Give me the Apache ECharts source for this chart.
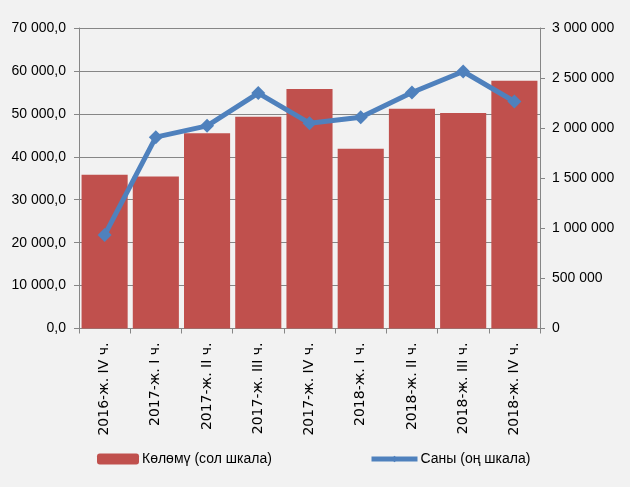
<!DOCTYPE html>
<html><head><meta charset="utf-8">
<script src="https://cdn.jsdelivr.net/npm/echarts@6/dist/echarts.min.js"></script>
<style>html,body{margin:0;padding:0;background:#f2f2f2}#c{width:630px;height:487px}</style>
</head><body><div id="c"></div>
<script>
const categories = ['2016-ж. IV ч.','2017-ж. I ч.','2017-ж. II ч.','2017-ж. III ч.','2017-ж. IV ч.','2018-ж. I ч.','2018-ж. II ч.','2018-ж. III ч.','2018-ж. IV ч.'];
const volume = [35800, 35400, 45500, 49300, 55800, 41900, 51200, 50200, 57700];
const count = [933000, 1910000, 2023000, 2350000, 2050000, 2110000, 2356000, 2566000, 2266000];
const volumeName = 'Көлөмү (сол шкала)';
const countName = 'Саны (оң шкала)';

const fmtSpace = n => String(Math.round(n)).replace(/\B(?=(\d{3})+(?!\d))/g, ' ');
const sans = '"Liberation Sans", Arial, sans-serif';
const chart = echarts.init(document.getElementById('c'));
chart.setOption({
  backgroundColor: '#f2f2f2',
  animation: false,
  grid: {left: 79, right: 90, top: 28, bottom: 158.5},
  legend: [
    {data: [volumeName], left: 92, top: 447, itemWidth: 42, itemHeight: 11, itemGap: 4,
     textStyle: {fontFamily: sans, fontSize: 14, color: '#000', padding: [0, 0, 0, -2]}},
    {data: [countName], left: 364, top: 447, itemWidth: 46, itemHeight: 8, itemGap: 4,
     lineStyle: {width: 5, color: '#4f81bd'},
     textStyle: {fontFamily: sans, fontSize: 14, color: '#000', padding: [0, 0, 0, -2]}}
  ],
  xAxis: {
    type: 'category', data: categories,
    axisLine: {lineStyle: {color: '#868686'}},
    axisTick: {show: true, length: 5, lineStyle: {color: '#868686'}},
    axisLabel: {rotate: 90, margin: 14, fontFamily: 'DejaVu Sans', fontSize: 14, color: '#000'}
  },
  yAxis: [
    {type: 'value', min: 0, max: 70000, interval: 10000,
     axisLine: {show: true, lineStyle: {color: '#868686'}},
     axisTick: {show: true, length: 5, lineStyle: {color: '#868686'}},
     splitLine: {lineStyle: {color: '#868686', width: 1.2}},
     axisLabel: {margin: 13, fontFamily: sans, fontSize: 14, color: '#000',
       formatter: v => fmtSpace(v) + ',0'}},
    {type: 'value', min: 0, max: 3000000, interval: 500000,
     axisLine: {show: true, lineStyle: {color: '#868686'}},
     axisTick: {show: true, inside: false, length: 5, lineStyle: {color: '#868686'}},
     splitLine: {show: false},
     axisLabel: {margin: 12, fontFamily: sans, fontSize: 14, color: '#000',
       formatter: v => fmtSpace(v)}}
  ],
  series: [
    {name: volumeName, type: 'bar', data: volume, yAxisIndex: 0, barCategoryGap: '10%',
     itemStyle: {color: '#c0504d'}},
    {name: countName, type: 'line', data: count, yAxisIndex: 1,
     symbol: 'diamond', symbolSize: 14,
     lineStyle: {color: '#4f81bd', width: 5},
     itemStyle: {color: '#4f81bd'}}
  ]
});
</script></body></html>
